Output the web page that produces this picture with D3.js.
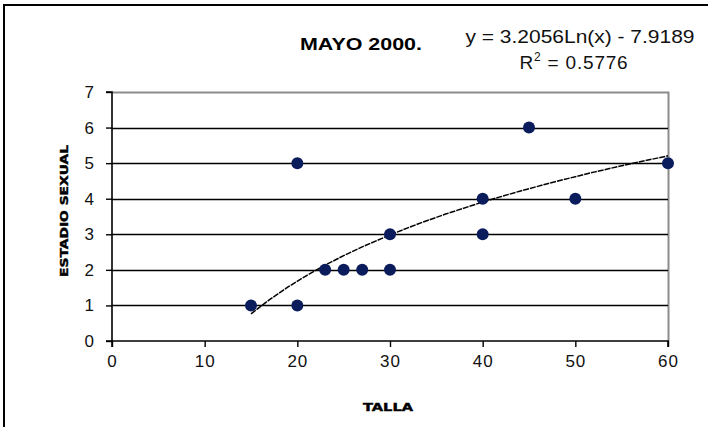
<!DOCTYPE html>
<html>
<head>
<meta charset="utf-8">
<script src="https://cdn.jsdelivr.net/npm/d3@7"></script>
<style>
  body { margin: 0; background: #fff; }
  svg { display: block; }
</style>
</head>
<body>
<svg id="chart" width="708" height="427"></svg>
<script>
'use strict'

// data
var talla = [15, 20, 20, 23, 25, 27, 30, 30, 40, 40, 45, 50, 60]
var estadio = [1, 5, 1, 2, 2, 2, 3, 2, 4, 3, 6, 4, 5]
var xTicks = [0, 10, 20, 30, 40, 50, 60]
var yTicks = [0, 1, 2, 3, 4, 5, 6, 7]

// trend line as printed on the chart
var trendA = 3.2056
var trendB = -7.9189
var trendR2 = 0.5776
var trendX = [15, 17, 19, 21, 23, 25, 27, 30, 33, 36, 40, 44, 48, 52, 56, 60]

var titleText = "MAYO 2000."
var xTitle = "TALLA"
var yTitle = "ESTADIO SEXUAL"

var svg = d3.select("#chart")
var font = "'Liberation Sans', Arial, sans-serif"

var plot = { left: 112, right: 668, top: 92, bottom: 341 }

var x = d3.scaleLinear().domain([0, 60]).range([plot.left, plot.right])
var y = d3.scaleLinear().domain([0, 7]).range([plot.bottom, plot.top])

// outer frame (cut off on the right and bottom like the reference)
svg.append("rect")
  .attr("x", 4).attr("y", 5)
  .attr("width", 740).attr("height", 460)
  .attr("fill", "none")
  .attr("stroke", "#000")
  .attr("stroke-width", 2)

// plot area border (grey top and right)
svg.append("path")
  .attr("d", "M" + plot.left + "," + (plot.top + 0.5) + "H" + (plot.right + 0.5) + "V" + plot.bottom)
  .attr("fill", "none")
  .attr("stroke", "#8c8c8c")
  .attr("stroke-width", 2)

// gridlines
svg.append("g")
  .selectAll("line")
  .data(yTicks.filter(d => d > 0 && d < 7))
  .join("line")
  .attr("x1", plot.left).attr("x2", plot.right)
  .attr("y1", d => Math.round(y(d)) + 0.5)
  .attr("y2", d => Math.round(y(d)) + 0.5)
  .attr("stroke", "#000")
  .attr("stroke-width", 1.3)

// axes
var xAxis = d3.axisBottom(x).tickValues(xTicks).tickFormat(d3.format("d")).tickSize(6).tickPadding(8)
var yAxis = d3.axisLeft(y).tickValues(yTicks).tickFormat(d3.format("d")).tickSize(6).tickPadding(11)

var gx = svg.append("g")
  .attr("transform", "translate(0," + plot.bottom + ")")
  .call(xAxis)
var gy = svg.append("g")
  .attr("transform", "translate(" + plot.left + ",0)")
  .call(yAxis)

;[gx, gy].forEach(g => {
  g.select(".domain").attr("stroke", "#000").attr("stroke-width", 1.6)
  g.selectAll(".tick line").attr("stroke", "#000").attr("stroke-width", 1.4)
  g.selectAll(".tick text")
    .attr("font-family", font)
    .attr("font-size", 17)
    .attr("letter-spacing", 1)
    .attr("fill", "#111")
})
gx.select(".domain").attr("d", "M" + plot.left + ",6V0H" + plot.right + "V6")
gy.select(".domain").attr("d", "M-6," + plot.top + "H0V" + plot.bottom + "H-6")

// trend line
var trendLine = d3.line()
  .x(d => x(d))
  .y(d => y(trendA * Math.log(d) + trendB))

svg.append("path")
  .datum(trendX)
  .attr("d", trendLine)
  .attr("fill", "none")
  .attr("stroke", "#000")
  .attr("stroke-width", 1.5)
  .attr("stroke-dasharray", "6,1")

// points
svg.append("g")
  .selectAll("circle")
  .data(talla.map((t, i) => [t, estadio[i]]))
  .join("circle")
  .attr("cx", d => x(d[0]))
  .attr("cy", d => y(d[1]))
  .attr("r", 6)
  .attr("fill", "#0b1c5c")

// titles
svg.append("text")
  .attr("x", 361).attr("y", 50)
  .attr("text-anchor", "middle")
  .attr("font-family", font)
  .attr("font-weight", "bold")
  .attr("font-size", 17)
  .attr("textLength", 122)
  .attr("lengthAdjust", "spacingAndGlyphs")
  .text(titleText)

svg.append("text")
  .attr("x", 580).attr("y", 43)
  .attr("text-anchor", "middle")
  .attr("font-family", font)
  .attr("font-size", 19)
  .attr("textLength", 229)
  .attr("lengthAdjust", "spacingAndGlyphs")
  .attr("fill", "#111")
  .text("y = " + trendA + "Ln(x) - " + Math.abs(trendB))

var r2 = svg.append("text")
  .attr("x", 574).attr("y", 69)
  .attr("text-anchor", "middle")
  .attr("font-family", font)
  .attr("font-size", 19)
  .attr("letter-spacing", 0.8)
  .attr("fill", "#111")
r2.append("tspan").text("R")
r2.append("tspan").attr("font-size", 12).attr("dy", -8).text("2")
r2.append("tspan").attr("dy", 8).text(" = " + trendR2)

svg.append("text")
  .attr("x", 388).attr("y", 411)
  .attr("text-anchor", "middle")
  .attr("font-family", "'DejaVu Sans', sans-serif")
  .attr("font-weight", "bold")
  .attr("font-size", 10)
  .attr("stroke", "#000")
  .attr("stroke-width", 0.4)
  .attr("textLength", 50)
  .attr("lengthAdjust", "spacingAndGlyphs")
  .text(xTitle)

svg.append("text")
  .attr("transform", "translate(68,211) rotate(-90)")
  .attr("text-anchor", "middle")
  .attr("font-family", "'DejaVu Sans', sans-serif")
  .attr("font-weight", "bold")
  .attr("font-size", 10)
  .attr("stroke", "#000")
  .attr("stroke-width", 0.4)
  .attr("textLength", 132)
  .attr("lengthAdjust", "spacingAndGlyphs")
  .text(yTitle)
</script>
</body>
</html>
